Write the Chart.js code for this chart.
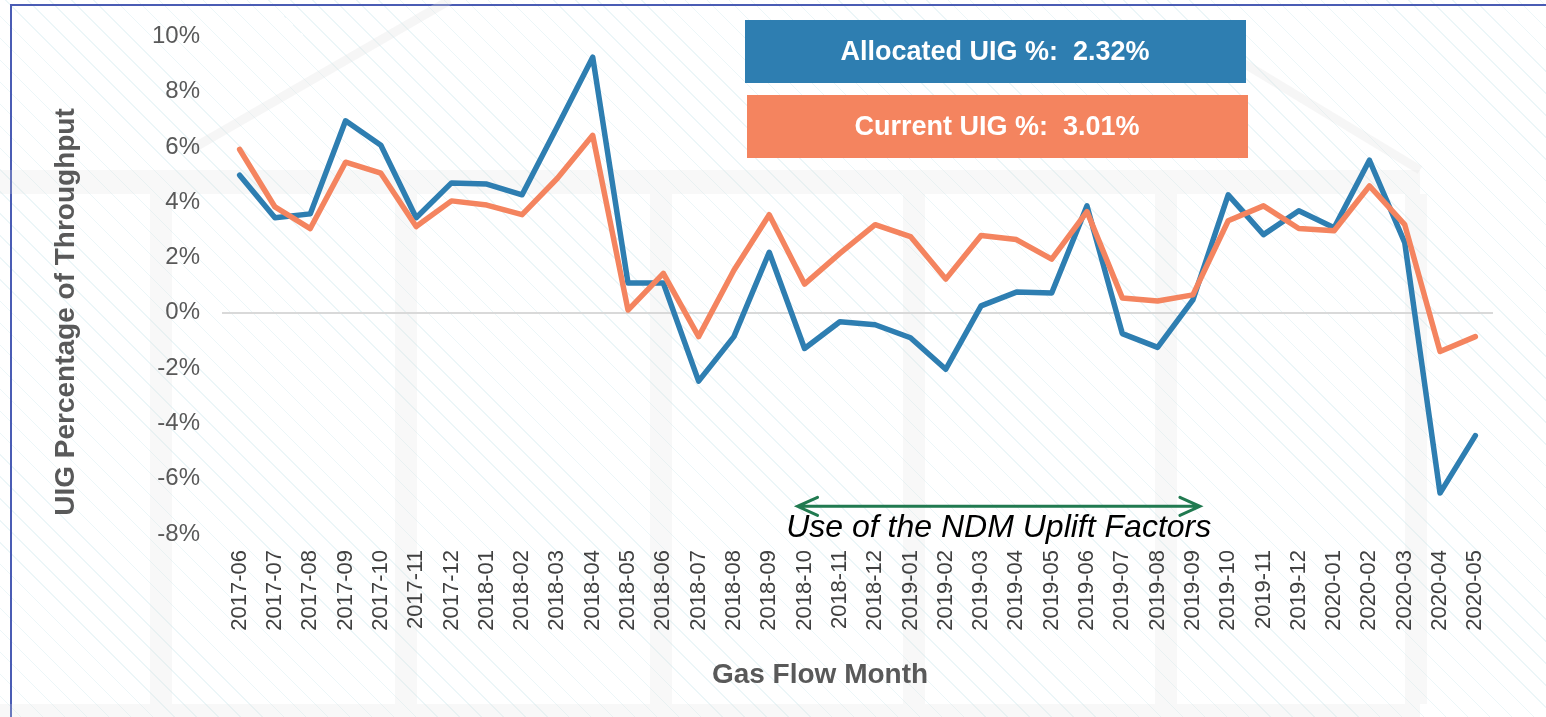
<!DOCTYPE html>
<html>
<head>
<meta charset="utf-8">
<script src="https://cdn.jsdelivr.net/npm/chart.js@4/dist/chart.umd.min.js"></script>
<style>
  html, body { margin: 0; padding: 0; }
  body {
    width: 1546px;
    height: 717px;
    overflow: hidden;
    background-color: #fff;
    background-image: repeating-linear-gradient(45deg, #fff 0px, #fff 14.5px, #ecf6f8 14.5px, #ecf6f8 15.5px);
  }
  .frame {
    position: absolute;
    left: 10px;
    top: 4px;
    width: 1546px;
    height: 730px;
    border-left: 2px solid #4a5cb4;
    border-top: 2px solid #4a5cb4;
  }
  #wrap { position: absolute; left: 0; top: 0; width: 1546px; height: 717px; }
</style>
</head>
<body>
<div class="frame"></div>
<div id="wrap"><canvas id="uigChart" width="1546" height="717"></canvas></div>
<script>
const months = [
  "2017-06", "2017-07", "2017-08", "2017-09", "2017-10", "2017-11", "2017-12",
  "2018-01", "2018-02", "2018-03", "2018-04", "2018-05", "2018-06", "2018-07",
  "2018-08", "2018-09", "2018-10", "2018-11", "2018-12", "2019-01", "2019-02",
  "2019-03", "2019-04", "2019-05", "2019-06", "2019-07", "2019-08", "2019-09",
  "2019-10", "2019-11", "2019-12", "2020-01", "2020-02", "2020-03", "2020-04",
  "2020-05"
];

// allocated UIG % (blue)
const allocated = [
  4.98, 3.44, 3.58, 6.95, 6.06, 3.44, 4.70, 4.66, 4.27, 6.74, 9.25, 1.08,
  1.08, -2.47, -0.86, 2.19, -1.29, -0.32, -0.43, -0.90, -2.04, 0.25, 0.75, 0.72,
  3.87, -0.75, -1.25, 0.47, 4.27, 2.83, 3.69, 3.08, 5.52, 2.54, -6.52, -4.44
];

// current UIG % (orange)
const current = [
  5.91, 3.83, 3.05, 5.45, 5.05, 3.12, 4.05, 3.90, 3.55, 4.87, 6.42, 0.10,
  1.43, -0.86, 1.54, 3.55, 1.04, 2.15, 3.19, 2.76, 1.22, 2.80, 2.65, 1.94,
  3.66, 0.54, 0.43, 0.65, 3.33, 3.87, 3.05, 2.97, 4.59, 3.19, -1.40, -0.86
];

const yMin = -8;
const yMax = 10;
const yStep = 2;

const summaryLabels = ["Allocated UIG %:  2.32%", "Current UIG %:  3.01%"];
const upliftRange = ["2018-10", "2019-09"];
const upliftText = "Use of the NDM Uplift Factors";
const xTitle = "Gas Flow Month";
const yTitle = "UIG Percentage of Throughput";

const blue = "#2e7eb1";
const orange = "#f4845f";
const green = "#217a50";
const font = "'Liberation Sans', Arial, sans-serif";

const extras = {
  id: "extras",
  beforeDraw(chart) {
    const c = chart.ctx;
    c.save();
    // faint building behind the chart
    c.fillStyle = "rgba(225,225,225,0.22)";
    c.fillRect(0, 170, 1420, 24);
    [150, 395, 650, 903, 1155, 1405].forEach((x) => c.fillRect(x, 194, 22, 510));
    c.fillRect(0, 704, 1420, 13);
    c.strokeStyle = "rgba(225,225,225,0.3)";
    c.lineWidth = 9;
    c.beginPath();
    c.moveTo(190, 150);
    c.lineTo(450, 0);
    c.moveTo(1230, 55);
    c.lineTo(1420, 170);
    c.stroke();
    c.restore();
  },
  afterDraw(chart) {
    const c = chart.ctx;
    const x = chart.scales.x;
    const y = chart.scales.y;
    c.save();

    // summary boxes
    const boxes = [
      { x: 745, y: 20, color: blue, text: summaryLabels[0] },
      { x: 747, y: 95, color: orange, text: summaryLabels[1] }
    ];
    boxes.forEach((b) => {
      c.fillStyle = b.color;
      c.fillRect(b.x, b.y, 501, 63);
      c.fillStyle = "#fff";
      c.font = "bold 27px " + font;
      c.textAlign = "center";
      c.textBaseline = "middle";
      c.fillText(b.text, b.x + 250, b.y + 33);
    });

    // uplift arrow
    const x1 = x.getPixelForValue(months.indexOf(upliftRange[0])) - 7;
    const x2 = x.getPixelForValue(months.indexOf(upliftRange[1])) + 7;
    const ay = y.getPixelForValue(-7);
    c.strokeStyle = green;
    c.lineWidth = 3;
    c.lineCap = "round";
    c.beginPath();
    c.moveTo(x1, ay);
    c.lineTo(x2, ay);
    c.moveTo(x1 + 20, ay - 9);
    c.lineTo(x1, ay);
    c.lineTo(x1 + 20, ay + 9);
    c.moveTo(x2 - 20, ay - 9);
    c.lineTo(x2, ay);
    c.lineTo(x2 - 20, ay + 9);
    c.stroke();

    c.fillStyle = "#000";
    c.font = "italic 32px " + font;
    c.textAlign = "center";
    c.textBaseline = "middle";
    c.fillText(upliftText, (x1 + x2) / 2, y.getPixelForValue(-7.8));

    // axis titles
    c.fillStyle = "#595959";
    c.font = "bold 28px " + font;
    c.fillText(xTitle, 820, 675);
    c.translate(66, 312);
    c.rotate(-Math.PI / 2);
    c.font = "bold 28px " + font;
    c.fillText(yTitle, 0, 0);
    c.restore();
  }
};

const ctx = document.getElementById("uigChart");
const uigChart = new Chart(ctx, {
  type: "line",
  data: {
    labels: months,
    datasets: [
      {
        label: "Allocated UIG %",
        data: allocated,
        borderColor: blue,
        borderWidth: 5.5,
        order: 1
      },
      {
        label: "Current UIG %",
        data: current,
        borderColor: orange,
        borderWidth: 5.5,
        order: 0
      }
    ]
  },
  options: {
    responsive: false,
    animation: false,
    layout: { padding: { top: 33, right: 53, left: 0, bottom: 0 } },
    elements: {
      point: { radius: 0 },
      line: { tension: 0, borderJoinStyle: "round", borderCapStyle: "round" }
    },
    plugins: {
      legend: { display: false },
      tooltip: { enabled: false }
    },
    scales: {
      x: {
        offset: true,
        grid: { display: false },
        border: { display: false },
        ticks: {
          autoSkip: false,
          minRotation: 90,
          maxRotation: 90,
          padding: 8,
          color: "#404040",
          font: { family: font, size: 22 }
        },
        afterFit: (scale) => { scale.height = 183; }
      },
      y: {
        min: yMin,
        max: yMax,
        border: { display: false },
        grid: {
          drawTicks: false,
          lineWidth: 2,
          color: (c) => (c.tick && c.tick.value === 0 ? "#d9d9d9" : "rgba(0,0,0,0)")
        },
        ticks: {
          stepSize: yStep,
          padding: 22,
          color: "#595959",
          font: { family: font, size: 24 },
          callback: (v) => v + "%"
        },
        afterFit: (scale) => { scale.width = 222; }
      }
    }
  },
  plugins: [extras]
});
</script>
</body>
</html>
